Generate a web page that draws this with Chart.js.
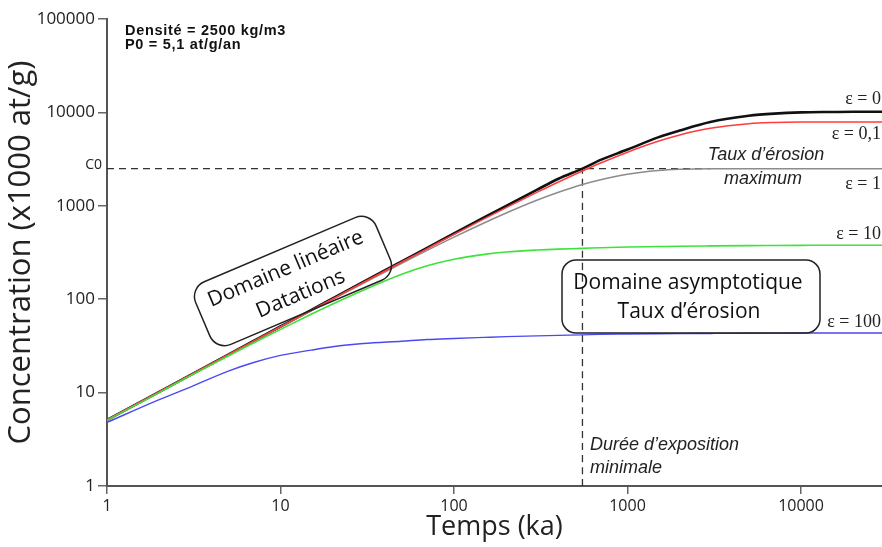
<!DOCTYPE html>
<html><head><meta charset="utf-8">
<script src="https://cdn.jsdelivr.net/npm/chart.js@4.4.0/dist/chart.umd.min.js"></script>
<style>html,body{margin:0;padding:0;background:#fff;overflow:hidden}</style>
</head><body><canvas id="c" width="882" height="547"></canvas>
<script>
// Time (ka) sample points
const times = [1, 2, 3, 5, 7, 10, 15, 20, 30, 50, 70, 100, 150, 200, 300, 400, 550, 700, 1000, 1500, 2000, 3000, 5000, 7000, 10000, 15000, 20000, 29300];
// Concentration (x1000 at/g) for each erosion rate
const eps0   = [5.1, 10.2, 15.3, 25.5, 35.7, 51, 76.5, 102, 153, 254, 355, 505, 755, 1000, 1480, 1950, 2500, 3100, 4000, 5400, 6400, 7900, 9200, 9700, 10000, 10100, 10150, 10150];
const eps01  = [5.1, 10.2, 15.3, 25.5, 35.6, 50.8, 76, 101, 151, 250, 348, 494, 729, 957, 1390, 1800, 2360, 2870, 3750, 4900, 5730, 6750, 7580, 7800, 7880, 7890, 7890, 7890];
const eps1   = [5.1, 10.2, 15.3, 25.4, 35.4, 50.5, 75, 100, 148, 242, 333, 462, 659, 837, 1145, 1395, 1690, 1900, 2175, 2383, 2458, 2495, 2500, 2500, 2500, 2500, 2500, 2500];
const eps10  = [5.05, 10, 15, 24.7, 34, 47.5, 69, 89, 125, 185, 228, 268, 302, 320, 336, 344, 350, 356, 362, 366, 369, 372, 375, 376, 377, 378, 378, 378];
const eps100 = [4.8, 8.4, 11.4, 17, 21, 25, 28.5, 31, 33.5, 35.5, 37, 38, 39, 39.7, 40.5, 41, 41.5, 42, 42.3, 42.6, 42.8, 43, 43.2, 43.3, 43.4, 43.5, 43.5, 43.5];
const seriesLabels = ['ε = 0', 'ε = 0,1', 'ε = 1', 'ε = 10', 'ε = 100'];
const xTickValues = [1, 10, 100, 1000, 10000];
const yTickValues = [1, 10, 100, 1000, 10000, 100000];
const C0 = 2500;            // concentration C0
const tMinExpo = 550;       // minimal exposure duration (ka)
const c0LineEndT = 3000;    // end of the horizontal C0 dashed line (ka)
const headerLines = ['Densité = 2500 kg/m3', 'P0 = 5,1 at/g/an'];
const box1Lines = ['Domaine linéaire', 'Datations'];
const box2Lines = ['Domaine asymptotique', 'Taux d’érosion'];
const erosionLabel = ['Taux d’érosion', 'maximum'];
const expoLabel = ['Durée d’exposition', 'minimale'];
const c0Label = 'C0';
const xTitle = 'Temps (ka)';
const yTitle = 'Concentration (x1000 at/g)';

const pts = arr => times.map((t, i) => ({x: t, y: arr[i]}));

const annot = {
  id: 'annot',
  afterDatasetsDraw(chart) {
    const ctx = chart.ctx;
    ctx.save();
    // header
    ctx.fillStyle = '#111';
    ctx.textBaseline = 'middle';
    ctx.textAlign = 'left';
    ctx.font = 'bold 14.5px "Liberation Sans", Arial, sans-serif';
    try { ctx.letterSpacing = '0.7px'; } catch (e) {}
    ctx.fillText(headerLines[0], 125, 31);
    ctx.fillText(headerLines[1], 125, 45);
    try { ctx.letterSpacing = '0px'; } catch (e) {}
    // C0 label
    ctx.fillStyle = '#222';
    ctx.font = '14px "Open Sans", sans-serif';
    ctx.textAlign = 'right';
    ctx.fillText(c0Label, 102, 165);
    // epsilon labels
    ctx.font = '18px "Liberation Serif", "Times New Roman", serif';
    ctx.fillStyle = '#222';
    const ys = [99, 134, 184, 234, 322];
    seriesLabels.forEach((s, i) => ctx.fillText(s, 881, ys[i]));
    // italic annotations
    ctx.font = 'italic 18px "Liberation Sans", Arial, sans-serif';
    ctx.textAlign = 'center';
    ctx.fillText(erosionLabel[0], 766, 155);
    ctx.fillText(erosionLabel[1], 763, 179);
    ctx.textAlign = 'left';
    ctx.fillText(expoLabel[0], 590, 445);
    ctx.fillText(expoLabel[1], 590, 468);
    // box 2
    ctx.strokeStyle = '#222';
    ctx.lineWidth = 1.5;
    ctx.beginPath();
    ctx.roundRect(562, 260, 258, 73, 14);
    ctx.stroke();
    ctx.fillStyle = '#111';
    ctx.font = '21px "Open Sans", sans-serif';
    ctx.textAlign = 'center';
    ctx.fillText(box2Lines[0], 688, 283);
    ctx.fillText(box2Lines[1], 689, 312);
    // box 1 (rotated)
    ctx.save();
    ctx.translate(293, 281);
    ctx.rotate(-23 * Math.PI / 180);
    ctx.beginPath();
    ctx.roundRect(-98, -34, 196, 68, 16);
    ctx.stroke();
    ctx.fillText(box1Lines[0], -2, -14);
    ctx.fillText(box1Lines[1], 2, 15);
    ctx.restore();
    ctx.restore();
  }
};

const dashStyle = {borderColor: '#333', borderWidth: 1.3, borderDash: [7, 5], pointRadius: 0, tension: 0};

new Chart(document.getElementById('c'), {
  type: 'line',
  data: {
    datasets: [
      {data: pts(eps100), borderColor: '#4a4af2', borderWidth: 1.4, order: 1},
      {data: pts(eps10), borderColor: '#3de23d', borderWidth: 1.6, order: 2},
      {data: pts(eps01), borderColor: '#ff3c3c', borderWidth: 1.5, order: 3},
      {data: pts(eps1), borderColor: '#8c8c8c', borderWidth: 1.5, order: 4},
      {data: pts(eps0), borderColor: '#111', borderWidth: 2.6, order: 5},
      Object.assign({data: [{x: 1, y: C0}, {x: c0LineEndT, y: C0}], order: 6}, dashStyle),
      Object.assign({data: [{x: tMinExpo, y: 1}, {x: tMinExpo, y: C0}], order: 6}, dashStyle)
    ]
  },
  options: {
    responsive: false, animation: false, devicePixelRatio: 1,
    parsing: true,
    layout: {padding: {top: 19, right: 0, bottom: 0, left: 0}},
    plugins: {legend: {display: false}, tooltip: {enabled: false}},
    elements: {point: {radius: 0}, line: {cubicInterpolationMode: 'monotone', fill: false}},
    scales: {
      x: {
        type: 'logarithmic', min: 1, max: 29300,
        afterBuildTicks: s => { s.ticks = xTickValues.map(v => ({value: v})); },
        afterFit: s => { s.height = 61; },
        ticks: {callback: v => String(v), font: {family: 'Open Sans', size: 16}, color: '#222', padding: 3, maxRotation: 0, autoSkip: false},
        grid: {drawOnChartArea: false, drawTicks: true, tickLength: 8, color: '#666', lineWidth: 1.5},
        border: {display: true, color: '#555', width: 2},
        title: {display: true, text: xTitle, font: {family: 'Open Sans', size: 27}, color: '#222', padding: {top: 0, bottom: 3}}
      },
      y: {
        type: 'logarithmic', min: 1, max: 100000,
        afterBuildTicks: s => { s.ticks = yTickValues.map(v => ({value: v})); },
        afterFit: s => { s.width = 107; },
        ticks: {callback: v => String(v), font: {family: 'Open Sans', size: 17}, color: '#222', padding: 3, autoSkip: false},
        grid: {drawOnChartArea: false, drawTicks: true, tickLength: 9, color: '#666', lineWidth: 1.5},
        border: {display: true, color: '#555', width: 2},
        title: {display: true, text: yTitle, font: {family: 'Open Sans', size: 31}, color: '#222', padding: {top: 3, bottom: 0}}
      }
    }
  },
  plugins: [annot]
});
</script>
</body></html>
